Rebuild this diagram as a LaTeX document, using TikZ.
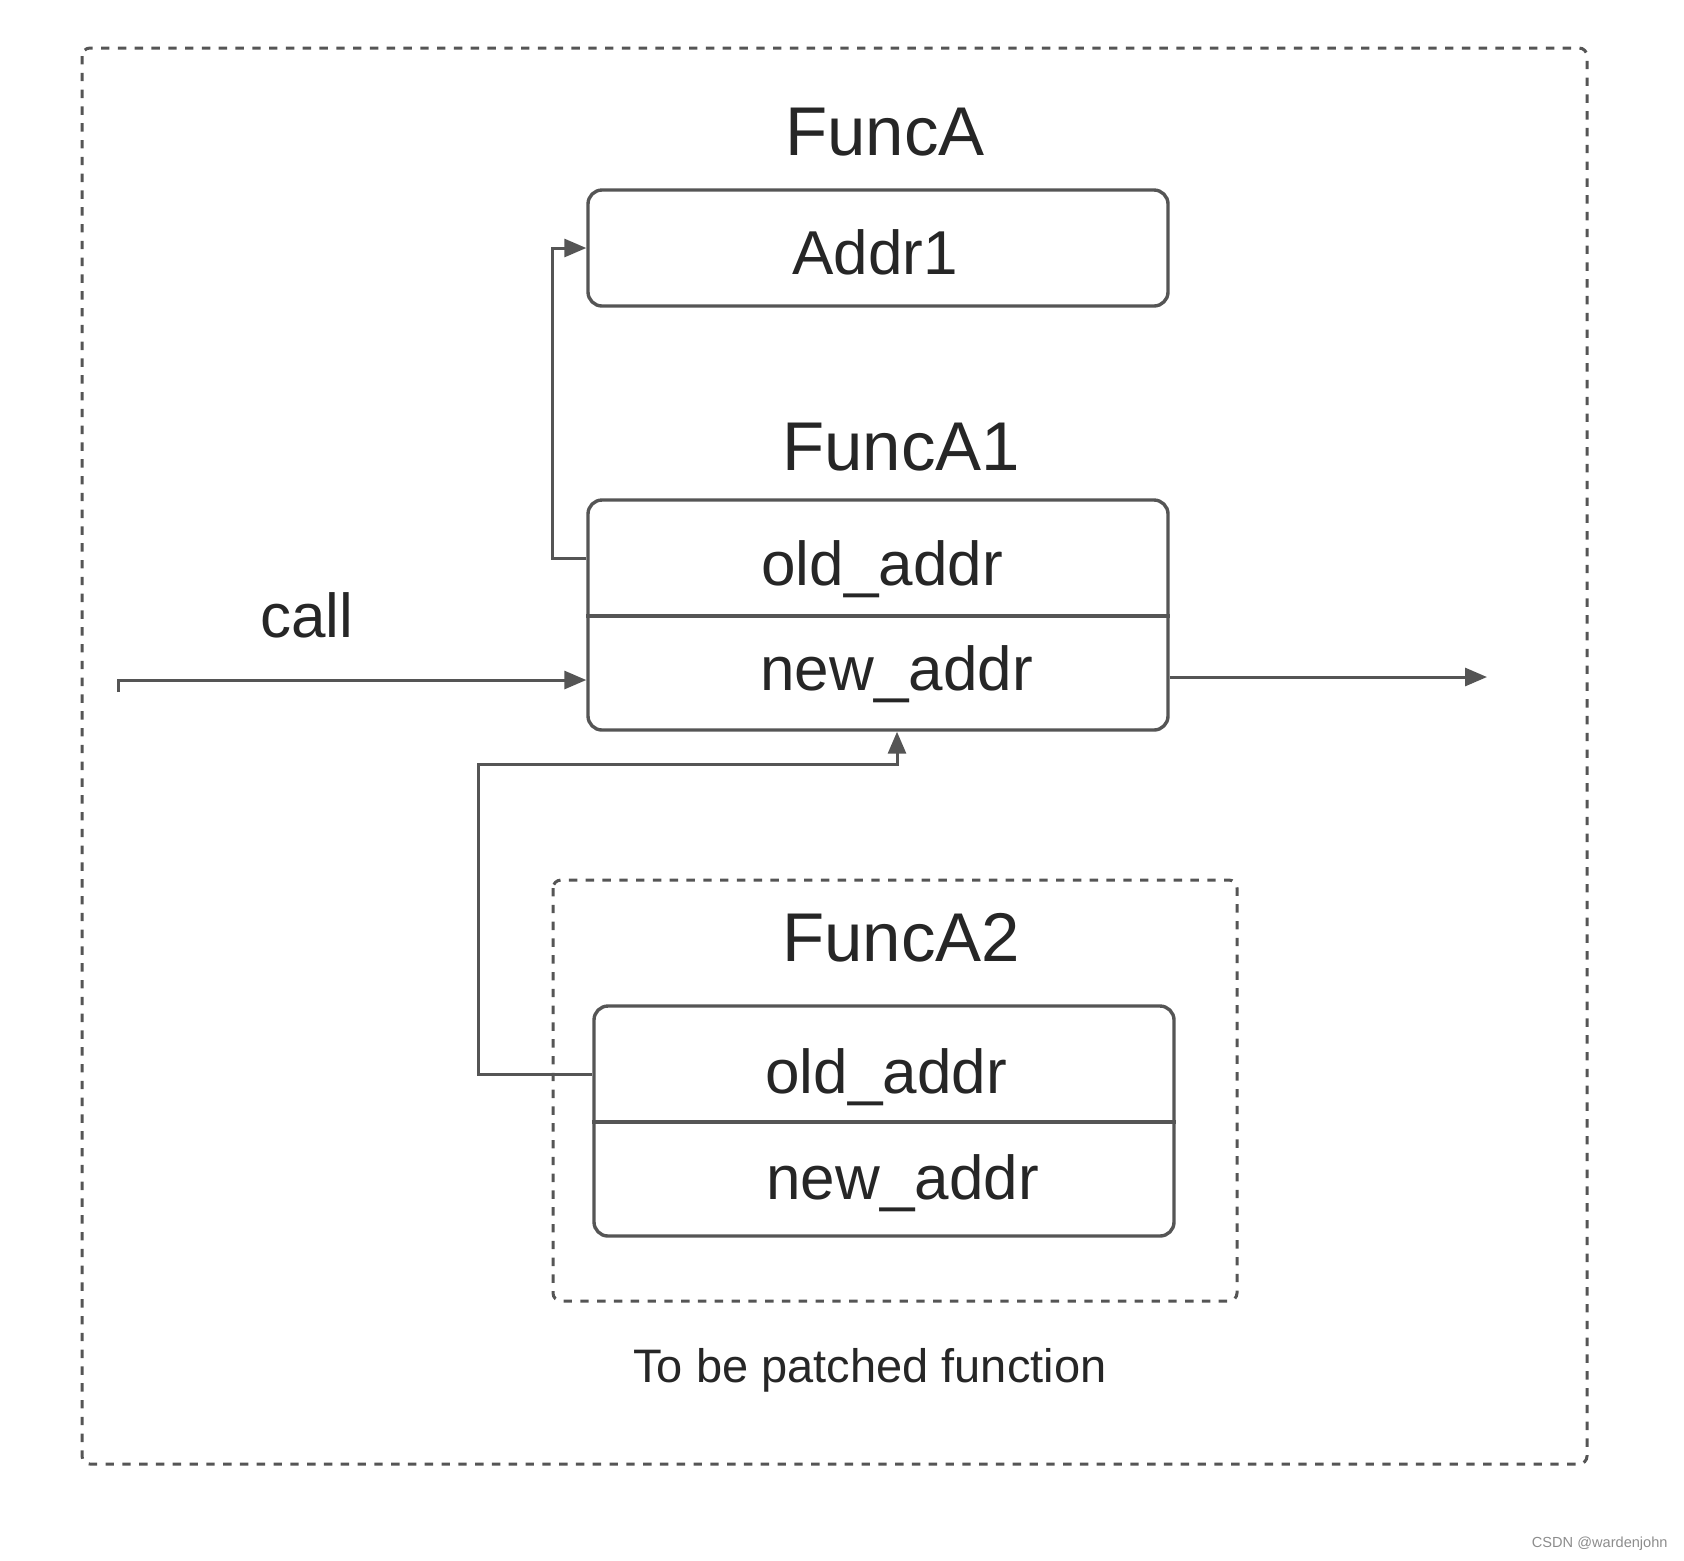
\documentclass[tikz,border=0pt]{standalone}
\usepackage{fontspec}
\setmainfont{Liberation Sans}
\usetikzlibrary{arrows.meta}
\definecolor{linegray}{HTML}{555555}
\definecolor{textgray}{HTML}{262626}

\begin{document}
\begin{tikzpicture}[x = 0.5pt, y = -0.5pt,
      box/.style = {draw = linegray, line width = 1.7pt, rounded corners = 7pt, minimum width = 290pt, inner sep = 0pt},
      frame/.style = {draw = linegray, line width = 1.5pt, dash pattern = on 4.2pt off 4.2pt, rounded corners = 4pt},
      title/.style = {anchor = base west, text = textgray, inner sep = 0pt, font = \fontsize{34.5}{40}\selectfont},
      field/.style = {anchor = base west, text = textgray, inner sep = 0pt, font = \fontsize{31}{37}\selectfont},
      link/.style = {draw = linegray, line width = 1.5pt, -{Triangle[length = 11pt, width = 9pt]}}]
      \useasboundingbox (0,0) rectangle (1684,1560);
      \draw[frame] (82,48) rectangle (1587,1464);
      \draw[frame] (553,880) rectangle (1237,1301);

      \node[box, minimum height = 58pt] (fa) at (878,248) {};
      \node[box, minimum height = 115pt] (f1) at (878,615) {};
      \node[box, minimum height = 115pt] (f2) at (884,1121) {};
      \coordinate (f1mid) at (0,616);
      \coordinate (f2mid) at (0,1122);
      \draw[linegray, line width = 1.7pt] (f1.west |- f1mid) -- (f1.east |- f1mid)
                                          (f2.west |- f2mid) -- (f2.east |- f2mid);

      \node[title] (ta) at (785,155) {FuncA};
      \node[field] (addr) at (792,274) {Addr1};
      \node[title] (t1) at (782,470) {FuncA1};
      \node[field] (f1old) at (761,585) {old\_addr};
      \node[field] (f1new) at (760,690) {new\_addr};
      \node[field] (call) at (260,637) {call};
      \node[title] (t2) at (782,961) {FuncA2};
      \node[field] (f2old) at (765,1093) {old\_addr};
      \node[field] (f2new) at (766,1199) {new\_addr};
      \node[anchor = base west, text = textgray, inner sep = 0pt, font = \fontsize{23.5}{28}\selectfont] (note) at (633,1382) {To be patched function};
      \node[anchor = base east, text = black!45, inner sep = 0pt, font = \fontsize{7.3}{9}\selectfont] (mark) at (1668,1547) {CSDN @wardenjohn};

      \coordinate (calltail) at (118,692);
      \coordinate (callrow) at (0,680);
      \coordinate (outrow) at (0,677);
      \coordinate (outhead) at (1487,677);
      \coordinate (f1link) at (0,558);
      \coordinate (f2link) at (0,1074);
      \coordinate (bend) at (478,764);
      \draw[link] (calltail) |- (f1.west |- callrow);
      \draw[link] (f1.east |- outrow) -- (outhead);
      \draw[link] (f1.west |- f1link) -- ++(-34,0) |- (fa.west);
      \draw[link] (f2.west |- f2link) -| (bend) -| ([xshift = 9.5pt]f1.south);
    \end{tikzpicture}
\end{document}
